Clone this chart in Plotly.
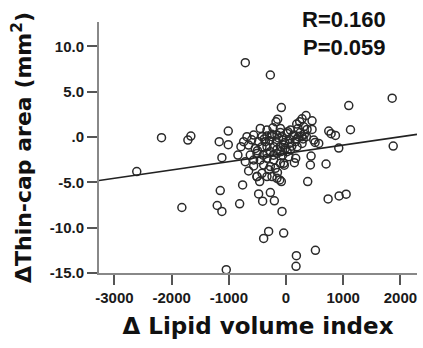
import plotly.graph_objects as go

# Scatter data (Δ Lipid volume index, Δ Thin-cap area)
lipid_x = [
    -2610, -2177, -1716, -1664, -1821, -712, -274, -82, 1097, 1856,
    1874, 1127, 747, 788, 864, 922, 700, 736, 928, 1051,
    514, 181, 175, -41, -304, -391, -70, -204, -274, -409,
    -479, -811, -759, -1150, -1203, -1121, -1045, -1121, -1168, -1010,
    -1010, 379, 426, 438, 508, 455, 350, 280, 187, 146,
    169, -146, -175, -82, -654, -566, -508, 239, -111,
    # dense cluster
    -450, -333, -228, -99, 76, 210, 309, 368, 455, -683,
    -566, -420, -333, -245, -158, -70, 18, 134, 222, 280,
    356, 485, 572, -741, -788, -654, -537, -420, -333, -216,
    -99, -12, 76, 193, 280, -841, -625, -508, -333, -158,
    18, -712, -566, -450, -333, -216, -99, -41, 47, -391,
    -274, -187, -508, -420, -333, -245, -158, -461, -286, -169,
    -53, 64, 163, -362, -479, -41, -158, -274, -600, -100,
    30, 250, 300, -220, -60, 100, -400, -150, -300, -30,
    -500, 120, -130, -20, 190, -250, -380, 60, -90, 320,
]
thincap_y = [
    -3.81, -0.07, -0.33, 0.11, -7.77, 8.21, 6.85, 3.26, 3.48, 4.29,
    -0.99, 0.81, 0.66, 0.37, 0.18, -1.21, -2.97, -6.82, -6.49, -6.30,
    -12.50, -13.09, -14.26, -10.59, -10.41, -11.18, -8.21, -7.04, -6.12, -7.07,
    -6.27, -7.37, -5.28, -5.90, -7.55, -8.21, -14.63, -2.27, -0.51, -0.84,
    0.66, -4.91, -3.08, -2.09, -0.59, 1.80, 2.38, 2.02, 1.43, -2.82,
    -2.35, 1.98, 1.69, -4.91, -3.74, -3.19, -4.36, 1.69, -4.73,
    # dense cluster
    0.95, 0.77, 1.03, 0.95, 0.77, 0.95, 1.14, 0.84, 0.84, 0.04,
    0.22, 0.04, 0.11, 0.04, 0.22, 0.04, 0.40, 0.22, 0.04, 0.04,
    0.04, -0.33, -0.70, -0.51, -1.06, -0.88, -1.25, -1.06, -1.06, -1.06,
    -1.06, -1.25, -1.43, -1.06, -0.70, -1.98, -1.98, -1.80, -1.80, -1.80,
    -1.61, -2.71, -2.53, -2.53, -2.35, -2.53, -2.90, -2.90, -2.16, -3.08,
    -3.26, -3.45, -4.36, -4.00, -4.36, -4.36, -4.55, -4.91, -0.40, -0.51,
    -0.33, -0.26, -0.51, -0.51, -0.51, -0.88, -1.36, -1.61, -0.30, 0.50,
    0.60, 0.50, -0.20, -2.00, -2.00, -1.00, -2.00, -3.90, -3.60, -3.10,
    -1.50, 0.10, -0.10, -0.60, -0.20, 0.30, -0.20, -0.70, -1.60, 0.30,
]

# Regression line end points
fit_x = [-3270, 2290]
fit_y = [-4.8, 0.3]

x_ticks = [-3000, -2000, -1000, 0, 1000, 2000]
x_ticktext = ["-3000", "-2000", "-1000", "0", "1000", "2000"]
y_ticks = [-15, -10, -5, 0, 5, 10]
y_ticktext = ["-15.0", "-10.0", "-5.0", ".0", "5.0", "10.0"]

tick_font = dict(family="Liberation Sans, Arial", size=15, color="#1a1a1a", weight="bold")
title_font = dict(family="DejaVu Sans", size=22, color="#111", weight="bold")

fig = go.Figure()
fig.add_trace(go.Scatter(
    x=lipid_x, y=thincap_y, mode="markers",
    marker=dict(symbol="circle-open", size=8, color="#2a2a2a", line=dict(width=1.5, color="#2a2a2a")),
    showlegend=False, hoverinfo="skip",
))
fig.add_trace(go.Scatter(
    x=fit_x, y=fit_y, mode="lines",
    line=dict(color="#222", width=1.6),
    showlegend=False, hoverinfo="skip",
))

fig.update_layout(
    width=423, height=348,
    margin=dict(l=99, r=6, t=22, b=75),
    paper_bgcolor="white", plot_bgcolor="white",
    xaxis=dict(
        range=[-3270, 2290], tickvals=x_ticks, ticktext=x_ticktext,
        ticks="outside", ticklen=10, tickwidth=2, tickcolor="#555",
        showline=True, linecolor="#888", linewidth=2,
        showgrid=False, zeroline=False, tickfont=tick_font,
        title=dict(text="Δ Lipid volume index", font=dict(title_font, size=23), standoff=13),
    ),
    yaxis=dict(
        range=[-15, 12.7], tickvals=y_ticks, ticktext=y_ticktext,
        ticks="outside", ticklen=10, tickwidth=2, tickcolor="#555",
        showline=True, linecolor="#888", linewidth=2,
        showgrid=False, zeroline=False, tickfont=tick_font,
        title=dict(text="ΔThin-cap area (mm<sup>2</sup>)", font=title_font, standoff=12),
    ),
    annotations=[
        dict(text="R=0.160", x=0.91, y=1.011, xref="paper", yref="paper",
             xanchor="right", yanchor="middle", showarrow=False,
             font=dict(family="Liberation Sans, Arial", size=22, color="#111", weight="bold")),
        dict(text="P=0.059", x=0.91, y=0.899, xref="paper", yref="paper",
             xanchor="right", yanchor="middle", showarrow=False,
             font=dict(family="Liberation Sans, Arial", size=22, color="#111", weight="bold")),
    ],
)

fig.write_html("out.html")
